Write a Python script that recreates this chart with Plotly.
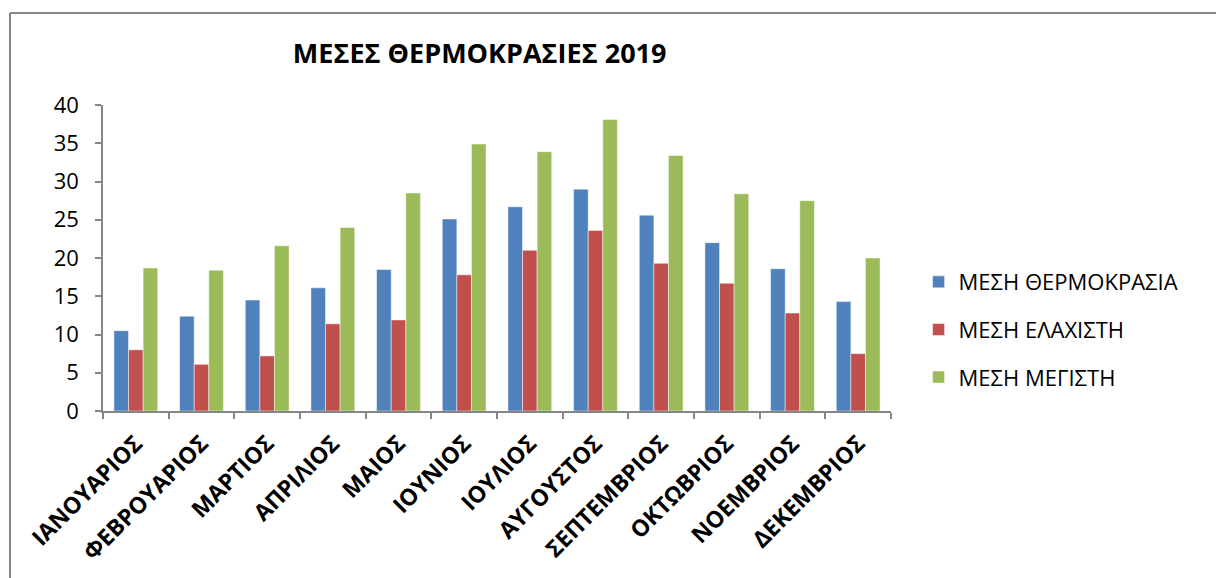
import plotly.graph_objects as go

months = ["ΙΑΝΟΥΑΡΙΟΣ", "ΦΕΒΡΟΥΑΡΙΟΣ", "ΜΑΡΤΙΟΣ", "ΑΠΡΙΛΙΟΣ", "ΜΑΙΟΣ", "ΙΟΥΝΙΟΣ",
          "ΙΟΥΛΙΟΣ", "ΑΥΓΟΥΣΤΟΣ", "ΣΕΠΤΕΜΒΡΙΟΣ", "ΟΚΤΩΒΡΙΟΣ", "ΝΟΕΜΒΡΙΟΣ", "ΔΕΚΕΜΒΡΙΟΣ"]
mean_temp = [10.5, 12.4, 14.5, 16.1, 18.5, 25.1, 26.7, 29.0, 25.6, 22.0, 18.6, 14.3]
mean_min = [8.0, 6.1, 7.2, 11.4, 11.9, 17.8, 21.0, 23.6, 19.3, 16.7, 12.8, 7.5]
mean_max = [18.7, 18.4, 21.6, 24.0, 28.5, 34.9, 33.9, 38.1, 33.4, 28.4, 27.5, 20.0]

series_names = ["ΜΕΣΗ ΘΕΡΜΟΚΡΑΣΙΑ", "ΜΕΣΗ ΕΛΑΧΙΣΤΗ", "ΜΕΣΗ ΜΕΓΙΣΤΗ"]
series_colors = ["#4F81BD", "#C0504D", "#9BBB59"]
y_ticks = [0, 5, 10, 15, 20, 25, 30, 35, 40]

FONT = "Open Sans, Noto Sans, DejaVu Sans, sans-serif"

fig = go.Figure()
for i, (name, vals, col) in enumerate(zip(series_names, [mean_temp, mean_min, mean_max], series_colors)):
    fig.add_trace(go.Bar(
        x=months, y=vals, name=name, legendgroup=f"g{i}",
        marker=dict(color=col, line=dict(color="rgba(255,255,255,0.6)", width=0.8)),
    ))

fig.update_layout(
    width=1216, height=578,
    margin=dict(l=103, r=325, t=105, b=167),
    paper_bgcolor="white", plot_bgcolor="white",
    barmode="group", bargap=0.333, bargroupgap=0,
    font=dict(family=FONT, color="black"),
    title=dict(text="<b>ΜΕΣΕΣ ΘΕΡΜΟΚΡΑΣΙΕΣ 2019</b>", x=0.478, xref="paper", xanchor="center",
               y=1 - 54 / 578, yanchor="middle", font=dict(size=27, family=FONT)),
    legend=dict(x=1.035, y=0.49, xanchor="left", yanchor="top",
                font=dict(size=22, family=FONT), tracegroupgap=16,
                bgcolor="rgba(0,0,0,0)"),
    showlegend=True,
)

fig.update_xaxes(
    type="category", tickangle=-45, tickson="boundaries",
    ticks="outside", ticklen=6, tickcolor="#868686", tickwidth=1.5,
    showline=True, linecolor="#868686", linewidth=1.5,
    tickfont=dict(size=23, family=FONT), showgrid=False,
    ticklabelstandoff=8,
)
fig.update_yaxes(
    range=[0, 40], tickvals=y_ticks, ticks="outside", ticklen=6,
    tickcolor="#868686", tickwidth=1.5, showline=True, linecolor="#868686", linewidth=1.5,
    tickfont=dict(size=22, family=FONT), showgrid=False, zeroline=False,
    ticklabelstandoff=12,
)

# bold month labels
fig.update_xaxes(tickvals=months, ticktext=[f"<b>{m}</b>" for m in months])

# chart-area frame (top and left edges)
fig.add_shape(type="line", xref="paper", yref="paper",
              x0=(10 - 103) / 788, x1=(1216 - 103) / 788, y0=(578 - 13 - 167) / 306, y1=(578 - 13 - 167) / 306,
              line=dict(color="#878787", width=2))
fig.add_shape(type="line", xref="paper", yref="paper",
              x0=(10 - 103) / 788, x1=(10 - 103) / 788, y0=(578 - 13 - 167) / 306, y1=-167 / 306,
              line=dict(color="#878787", width=2))

fig.write_html("out.html")
